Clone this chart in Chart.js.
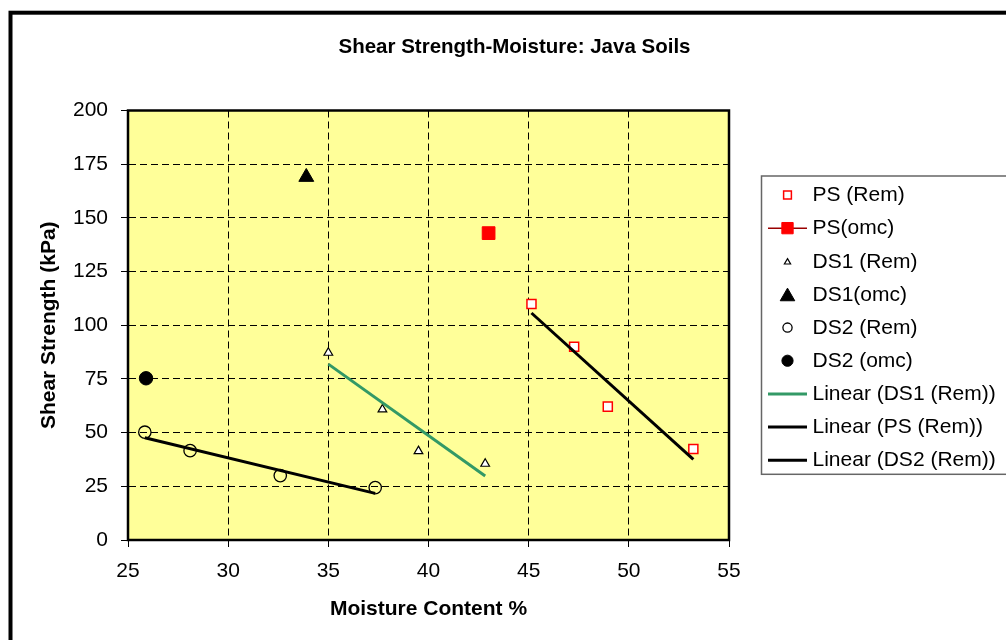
<!DOCTYPE html>
<html>
<head>
<meta charset="utf-8">
<title>Shear Strength-Moisture: Java Soils</title>
<script src="https://cdn.jsdelivr.net/npm/chart.js@4.4.1/dist/chart.umd.min.js"></script>
<style>
  html, body { margin: 0; padding: 0; background: #fff; }
  #wrap { width: 1006px; height: 640px; position: relative; }
</style>
</head>
<body>
<div id="wrap"><canvas id="chart" width="1006" height="640"></canvas></div>
<script>
// ── Data ──────────────────────────────────────────
const psRemX = [45.14, 47.27, 48.95, 53.22];
const psRemY = [109.9, 90.0, 62.1, 42.4];
const psOmcX = [43.0];
const psOmcY = [142.9];
const ds1RemX = [35.0, 37.7, 39.5, 42.83];
const ds1RemY = [87.2, 60.8, 41.4, 35.5];
const ds1OmcX = [33.9];
const ds1OmcY = [169.0];
const ds2RemX = [25.84, 28.1, 32.6, 37.34];
const ds2RemY = [50.2, 41.6, 30.0, 24.4];
const ds2OmcX = [25.9];
const ds2OmcY = [75.3];

// trend line end points (as drawn in the reference)
const ds1TrendX = [35.0, 42.83];
const ds1TrendY = [81.9, 29.8];
const psTrendX = [45.14, 53.22];
const psTrendY = [105.7, 37.5];
const ds2TrendX = [25.84, 37.34];
const ds2TrendY = [47.6, 21.7];

const xTicks = [25, 30, 35, 40, 45, 50, 55];
const yTicks = [0, 25, 50, 75, 100, 125, 150, 175, 200];

const FONT = "'Liberation Sans', Arial, sans-serif";
const PLOT_BG = '#FFFF99';

const pts = (xs, ys) => xs.map((x, i) => ({ x, y: ys[i] }));

// ── Marker series ─────────────────────────────────
function markerSet(label, xs, ys, style, radius, fill, stroke, bw, legendRadius) {
  return {
    label,
    data: pts(xs, ys),
    showLine: false,
    pointStyle: style,
    pointRadius: radius,
    pointHoverRadius: radius,
    pointBackgroundColor: fill,
    pointBorderColor: stroke,
    pointBorderWidth: bw,
    legendRadius,
    order: 1,
  };
}

// ── Trend lines ───────────────────────────────────
function trendSet(label, xs, ys, color) {
  return {
    label,
    data: pts(xs, ys),
    showLine: true,
    borderColor: color,
    borderWidth: 3,
    pointRadius: 0,
    pointHoverRadius: 0,
    order: 0,
  };
}

const datasets = [
  markerSet('PS (Rem)', psRemX, psRemY, 'rect', 6.4, '#FFFFFF', '#FF0000', 1.5, 5.5),
  Object.assign(markerSet('PS(omc)', psOmcX, psOmcY, 'rect', 9, '#FF0000', '#FF0000', 1, 8),
    { legendLine: '#990000' }),
  markerSet('DS1 (Rem)', ds1RemX, ds1RemY, 'triangle', 5, '#FFFFFF', '#000000', 1.2, 3.6),
  markerSet('DS1(omc)', ds1OmcX, ds1OmcY, 'triangle', 8.6, '#000000', '#000000', 1, 8.4),
  markerSet('DS2 (Rem)', ds2RemX, ds2RemY, 'circle', 6.2, 'rgba(0,0,0,0)', '#000000', 1.3, 4.6),
  markerSet('DS2 (omc)', ds2OmcX, ds2OmcY, 'circle', 6.7, '#000000', '#000000', 1, 5.6),
  trendSet('Linear (DS1 (Rem))', ds1TrendX, ds1TrendY, '#339966'),
  trendSet('Linear (PS (Rem))', psTrendX, psTrendY, '#000000'),
  trendSet('Linear (DS2 (Rem))', ds2TrendX, ds2TrendY, '#000000'),
];

// ── Plugins: frame, plot box, title, legend ───────
const frameAndBox = {
  id: 'frameAndBox',
  beforeDraw(chart) {
    const { ctx, chartArea: a } = chart;
    ctx.save();
    ctx.fillStyle = '#FFFFFF';
    ctx.fillRect(0, 0, chart.width, chart.height);
    ctx.fillStyle = PLOT_BG;
    ctx.fillRect(a.left, a.top, a.right - a.left, a.bottom - a.top);
    ctx.restore();
  },
  afterDatasetsDraw(chart) {
    const { ctx, chartArea: a } = chart;
    ctx.save();
    ctx.strokeStyle = '#000';
    ctx.lineWidth = 2.5;
    ctx.strokeRect(a.left, a.top, a.right - a.left, a.bottom - a.top);
    ctx.restore();
  },
  afterDraw(chart) {
    const { ctx } = chart;
    ctx.save();
    // outer chart frame (runs off the right and bottom edges)
    ctx.strokeStyle = '#000';
    ctx.lineWidth = 4;
    ctx.strokeRect(10.5, 12.7, 1100, 700);
    // title
    ctx.fillStyle = '#000';
    ctx.font = `bold 20.5px ${FONT}`;
    ctx.textAlign = 'center';
    ctx.textBaseline = 'alphabetic';
    ctx.fillText('Shear Strength-Moisture: Java Soils', 514.5, 53.3);
    ctx.restore();
  },
};

const boxLegend = {
  id: 'boxLegend',
  afterDraw(chart) {
    const { ctx } = chart;
    const left = 761.5, top = 176, bottom = 474.3;
    const rowTop = 195, rowGap = 33.15;
    const markX = 787.5, lineX1 = 768, lineX2 = 807, textX = 812.5;
    ctx.save();
    ctx.fillStyle = '#FFFFFF';
    ctx.fillRect(left, top, 300, bottom - top);
    ctx.strokeStyle = '#666666';
    ctx.lineWidth = 1.5;
    ctx.strokeRect(left, top, 300, bottom - top);

    chart.data.datasets.forEach((ds, i) => {
      const y = rowTop + i * rowGap;
      if (ds.showLine) {
        ctx.strokeStyle = ds.borderColor;
        ctx.lineWidth = ds.borderWidth;
        ctx.beginPath();
        ctx.moveTo(lineX1, y);
        ctx.lineTo(lineX2, y);
        ctx.stroke();
      } else {
        if (ds.legendLine) {
          ctx.strokeStyle = ds.legendLine;
          ctx.lineWidth = 1.5;
          ctx.beginPath();
          ctx.moveTo(lineX1, y);
          ctx.lineTo(lineX2, y);
          ctx.stroke();
        }
        ctx.fillStyle = ds.pointBackgroundColor;
        ctx.strokeStyle = ds.pointBorderColor;
        ctx.lineWidth = ds.pointBorderWidth;
        const py = ds.pointStyle === 'triangle' ? y + ds.legendRadius / 4 : y;
        Chart.helpers.drawPoint(ctx, {
          pointStyle: ds.pointStyle,
          radius: ds.legendRadius,
          borderWidth: ds.pointBorderWidth,
          rotation: 0,
        }, markX, py);
      }
      ctx.fillStyle = '#000';
      ctx.font = `21px ${FONT}`;
      ctx.textAlign = 'left';
      ctx.textBaseline = 'middle';
      ctx.fillText(ds.label, textX, y + 0.5);
    });
    ctx.restore();
  },
};

// ── Chart ─────────────────────────────────────────
Chart.defaults.font.family = FONT;
Chart.defaults.color = '#000';

new Chart(document.getElementById('chart').getContext('2d'), {
  type: 'scatter',
  data: { datasets },
  options: {
    responsive: false,
    animation: false,
    layout: { padding: { top: 110.5, right: 277, bottom: 0, left: 0 } },
    plugins: {
      legend: { display: false },
      tooltip: { enabled: false },
      title: { display: false },
    },
    scales: {
      x: {
        type: 'linear',
        min: xTicks[0],
        max: xTicks[xTicks.length - 1],
        afterBuildTicks: (s) => { s.ticks = xTicks.map((v) => ({ value: v })); },
        afterFit: (s) => { s.height = 100; },
        ticks: { color: '#000', font: { size: 21 }, padding: 12 },
        grid: { color: '#000', lineWidth: 1, tickLength: 7, tickColor: '#000', tickWidth: 1, tickBorderDash: [] },
        border: { display: true, color: '#000', width: 2, dash: [7, 4] },
        title: {
          display: true, text: 'Moisture Content %', color: '#000',
          font: { size: 21, weight: 'bold' }, padding: { top: 0, bottom: 18.4 },
        },
      },
      y: {
        type: 'linear',
        min: yTicks[0],
        max: yTicks[yTicks.length - 1],
        afterBuildTicks: (s) => { s.ticks = yTicks.map((v) => ({ value: v })); },
        afterFit: (s) => { s.width = 128; },
        ticks: { color: '#000', font: { size: 21 }, padding: 13 },
        grid: { color: '#000', lineWidth: 1, tickLength: 7, tickColor: '#000', tickWidth: 1, tickBorderDash: [] },
        border: { display: true, color: '#000', width: 2, dash: [7, 4] },
        title: {
          display: true, text: 'Shear Strength (kPa)', color: '#000',
          font: { size: 21, weight: 'bold' }, padding: { top: 36.4, bottom: 0 },
        },
      },
    },
  },
  plugins: [frameAndBox, boxLegend],
});
</script>
</body>
</html>
